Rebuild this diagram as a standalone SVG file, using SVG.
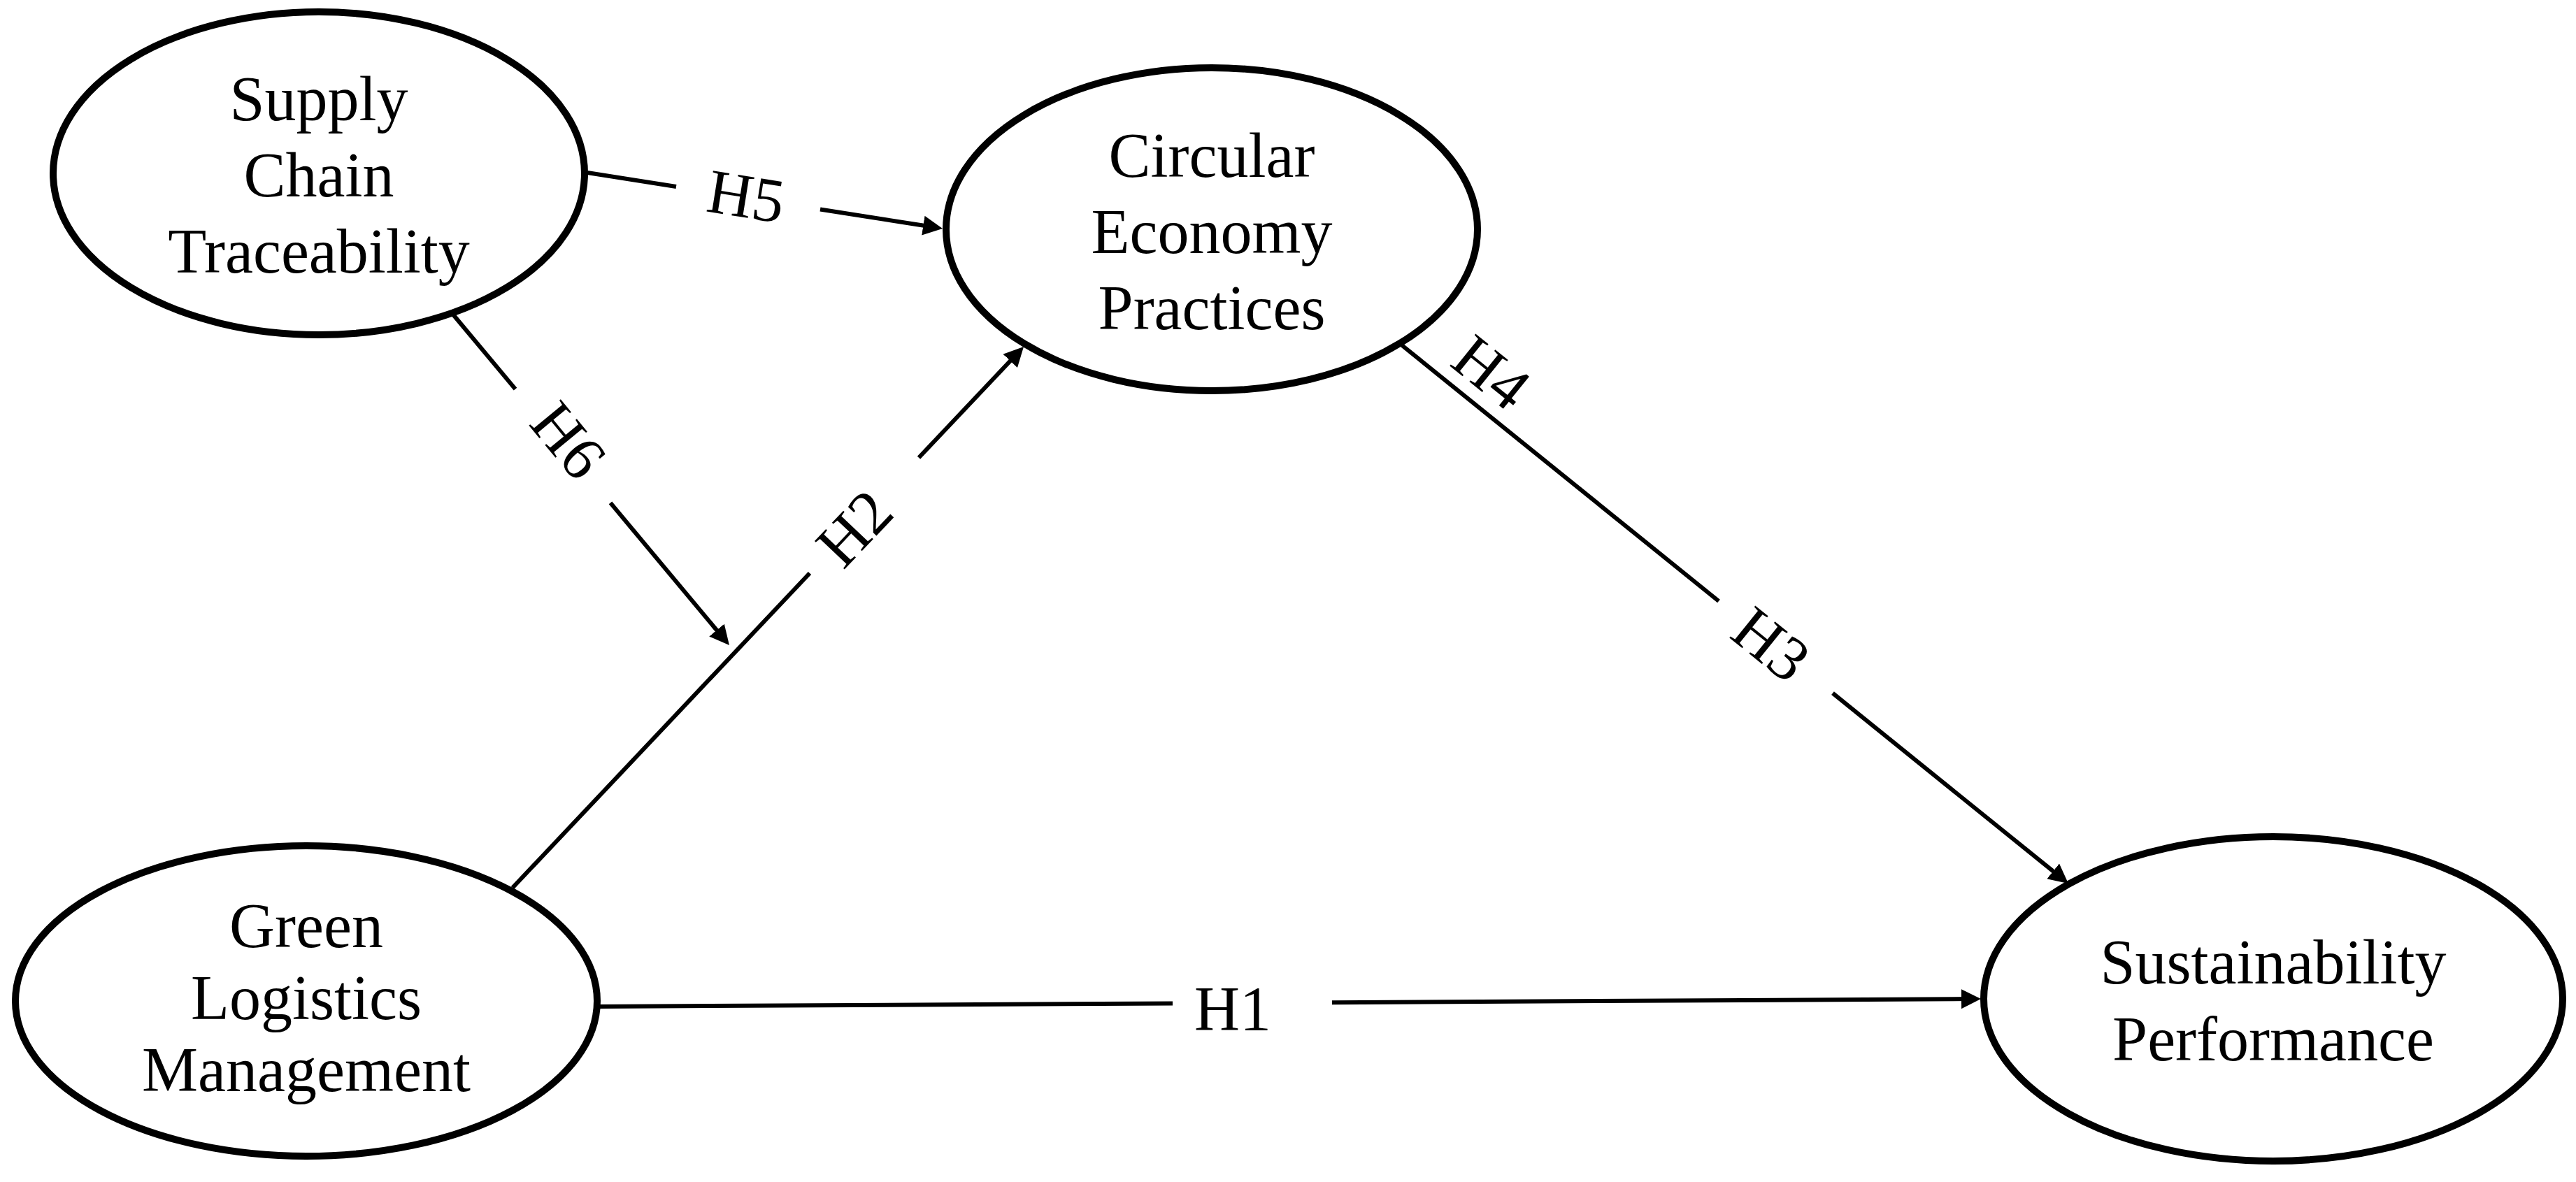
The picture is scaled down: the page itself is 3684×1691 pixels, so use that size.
<svg xmlns="http://www.w3.org/2000/svg" width="3684" height="1691" viewBox="0 0 3684 1691">
<style>
.node ellipse{fill:#fff;stroke:#000;stroke-width:10}
.node text{font-family:"Liberation Serif","Times New Roman",serif;font-size:90px;fill:#000;text-anchor:middle}
.conn path{fill:none;stroke:#000;stroke-width:6}
.lbl{font-family:"Liberation Serif","Times New Roman",serif;font-size:90px;fill:#000;text-anchor:middle}
</style>
<defs>
<marker id="arr" markerUnits="userSpaceOnUse" viewBox="0 0 28 28" markerWidth="28" markerHeight="28" refX="14" refY="14" orient="auto">
<path d="M0,0 L28,14 L0,28 z" fill="#000"/>
</marker>
</defs>
<rect width="3684" height="1691" fill="#fff"/>
<g id="connectors" class="conn">
<path id="H5" d="M840,247 L967,267 M1173,299.5 L1334.2,324.8" marker-end="url(#arr)"/>
<path id="H6" d="M648,450 L737,556.6 M873,719.4 L1034,912.3" marker-end="url(#arr)"/>
<path id="H2" d="M733,1270 L1158,820 M1314,654.8 L1454.4,506.2" marker-end="url(#arr)"/>
<path id="H3" d="M2005,494 L2458,860 M2621,991.7 L2947.1,1255.2" marker-end="url(#arr)"/>
<path id="H1" d="M855,1440 L1677,1435.4 M1905,1434.2 L2819,1429.1" marker-end="url(#arr)"/>
<text class="lbl" transform="translate(1067,281) rotate(9.1)" y="30">H5</text>
<text class="lbl" transform="translate(813,630) rotate(50.5)" y="30">H6</text>
<text class="lbl" transform="translate(1222,756) rotate(-46.6)" y="30">H2</text>
<text class="lbl" transform="translate(2133,533) rotate(38.9)" y="30">H4</text>
<text class="lbl" transform="translate(2533,922) rotate(38.9)" y="30">H3</text>
<text class="lbl" transform="translate(1763,1444)" y="30">H1</text>
</g>
<g id="supply-chain-traceability" class="node">
<ellipse cx="456" cy="248" rx="380" ry="231"/>
<text x="456" y="172">Supply</text>
<text x="456" y="281">Chain</text>
<text x="456" y="390">Traceability</text>
</g>
<g id="circular-economy-practices" class="node">
<ellipse cx="1733" cy="328" rx="380" ry="231"/>
<text x="1733" y="253">Circular</text>
<text x="1733" y="362">Economy</text>
<text x="1733" y="471">Practices</text>
</g>
<g id="green-logistics-management" class="node">
<ellipse cx="438" cy="1432" rx="416" ry="222"/>
<text x="438" y="1355">Green</text>
<text x="438" y="1458">Logistics</text>
<text x="438" y="1561">Management</text>
</g>
<g id="sustainability-performance" class="node">
<ellipse cx="3251" cy="1429" rx="414" ry="232"/>
<text x="3251" y="1407">Sustainability</text>
<text x="3251" y="1517">Performance</text>
</g>
</svg>
